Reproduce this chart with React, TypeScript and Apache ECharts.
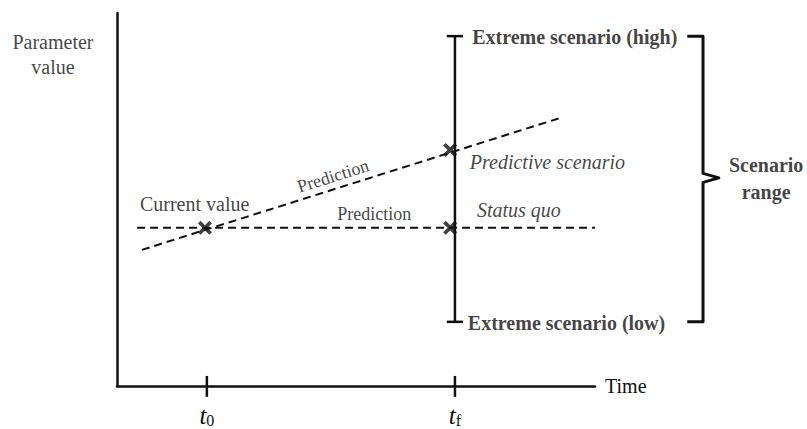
import { useEffect, useRef } from 'react';
import * as echarts from 'echarts';

// ---- data (axis units: time 0..10, parameter value 0..10) ----
const timeTickValues = [1.88, 7.07];
const timeTickSubscripts = ['0', 'f'];
const statusQuoLine = [[0.42, 4.24], [10.0, 4.24]];
const predictionLine = [[0.52, 3.65], [9.33, 7.21]];
const crossPoints = [[1.84, 4.24], [6.97, 6.33], [6.97, 4.24]];
const scenarioTime = 7.07;
const scenarioLow = 1.72;
const scenarioHigh = 9.38;
const braceXs = [11.93, 12.26, 12.59]; // start, spine, tip
const braceMid = 5.58;

const labelTexts = [
  'Current value',
  'Prediction',
  'Prediction',
  'Predictive scenario',
  'Status quo',
  'Extreme scenario (high)',
  'Extreme scenario (low)',
  'Scenario\nrange',
  'Parameter\nvalue',
];
const labelPoints = [
  [0.48, 4.88],
  [4.52, 5.63],
  [5.38, 4.61],
  [7.38, 6.01],
  [7.53, 4.72],
  [7.43, 9.36],
  [7.34, 1.69],
  [13.58, 5.56],
  [-1.34, 8.89],
];

// ---- styles ----
const INK = '#111011';
const FONT = "'Liberation Serif', 'Times New Roman', serif";
const CAP_HALF = 0.17;
const TICK_UP = 0.27;
const TICK_DOWN = 0.29;
const labelStyles: any[] = [
  { position: 'right', fontSize: 20 },
  { position: 'inside', fontSize: 18, rotate: 17.5 },
  { position: 'inside', fontSize: 18 },
  { position: 'right', fontSize: 20, fontStyle: 'italic' },
  { position: 'right', fontSize: 20, fontStyle: 'italic' },
  { position: 'right', fontSize: 20, fontWeight: 'bold' },
  { position: 'right', fontSize: 20, fontWeight: 'bold' },
  { position: 'inside', fontSize: 20, fontWeight: 'bold', lineHeight: 27, align: 'center' },
  { position: 'inside', fontSize: 20, lineHeight: 25, align: 'center' },
];

function seg(id: string, pts: number[][], width: number, type: any = 'solid') {
  return {
    type: 'line',
    id,
    data: pts,
    showSymbol: false,
    symbol: 'none',
    clip: false,
    silent: true,
    z: 3,
    lineStyle: { color: INK, width, type, cap: 'butt', join: 'miter' },
  };
}

export default function App() {
  const ref = useRef<HTMLDivElement>(null);
  useEffect(() => {
    if (!ref.current) return;
    const chart = echarts.init(ref.current, null, { renderer: 'svg' });

    const series: any[] = [
      seg('statusQuo', statusQuoLine, 2, [8, 5]),
      seg('prediction', predictionLine, 2, [8, 5]),
      seg('scenarioLine', [[scenarioTime, scenarioLow], [scenarioTime, scenarioHigh]], 2.5),
      seg('capHigh', [[scenarioTime - CAP_HALF, scenarioHigh], [scenarioTime + CAP_HALF, scenarioHigh]], 2.5),
      seg('capLow', [[scenarioTime - CAP_HALF, scenarioLow], [scenarioTime + CAP_HALF, scenarioLow]], 2.5),
      ...timeTickValues.map((t, i) => seg('tick' + i, [[t, TICK_UP], [t, -TICK_DOWN]], 2.5)),
      {
        type: 'scatter',
        id: 'crosses',
        data: crossPoints,
        symbol: 'path://M0,2.2L2.2,0L6,3.8L9.8,0L12,2.2L8.2,6L12,9.8L9.8,12L6,8.2L2.2,12L0,9.8L3.8,6Z',
        symbolSize: 14,
        clip: false,
        silent: true,
        z: 4,
        itemStyle: { color: INK },
      },
      {
        type: 'scatter',
        id: 'labels',
        symbolSize: 0,
        clip: false,
        silent: true,
        z: 5,
        data: labelPoints.map((p, i) => {
          const s = labelStyles[i];
          return {
            value: p,
            label: {
              show: true,
              formatter: labelTexts[i],
              distance: 0,
              color: INK,
              fontFamily: FONT,
              ...s,
            },
          };
        }),
      },
    ];

    chart.setOption({
      animation: false,
      backgroundColor: '#ffffff',
      grid: { left: 117, top: 13, width: 478, height: 373, containLabel: false, outerBoundsMode: 'none' },
      xAxis: {
        type: 'value',
        min: 0,
        max: 10,
        name: 'Time',
        nameLocation: 'end',
        nameGap: 10,
        nameTextStyle: { color: INK, fontFamily: FONT, fontSize: 20 },
        splitLine: { show: false },
        axisTick: { show: false },
        axisLine: { show: true, onZero: false, lineStyle: { color: INK, width: 2.5 } },
        axisLabel: {
          show: true,
          customValues: timeTickValues,
          margin: 17,
          formatter: (v: number) => {
            let best = 0;
            timeTickValues.forEach((t, i) => {
              if (Math.abs(t - v) < Math.abs(timeTickValues[best] - v)) best = i;
            });
            return '{t|t}{s|' + timeTickSubscripts[best] + '}';
          },
          rich: {
            t: { fontFamily: FONT, fontStyle: 'italic', fontSize: 25, color: INK, verticalAlign: 'bottom' },
            s: { fontFamily: FONT, fontSize: 16, color: INK, padding: [8, 0, 0, 0], verticalAlign: 'bottom' },
          },
        },
      },
      yAxis: {
        type: 'value',
        min: 0,
        max: 10,
        splitLine: { show: false },
        axisTick: { show: false },
        axisLabel: { show: false },
        axisLine: { show: true, lineStyle: { color: INK, width: 2.5 } },
      },
      series,
    });

    // brace: data points converted to pixels through the chart's own axes
    const braceData = [
      [braceXs[0], scenarioHigh],
      [braceXs[1], scenarioHigh],
      [braceXs[1], braceMid + 0.12],
      [braceXs[2], braceMid],
      [braceXs[1], braceMid - 0.12],
      [braceXs[1], scenarioLow],
      [braceXs[0], scenarioLow],
    ];
    const bracePx = braceData.map((p) => chart.convertToPixel({ gridIndex: 0 }, p) as number[]);
    chart.setOption({
      graphic: [
        {
          type: 'polyline',
          id: 'brace',
          silent: true,
          z: 3,
          shape: { points: bracePx },
          style: { stroke: INK, lineWidth: 3, fill: 'none', lineJoin: 'round' },
        },
      ],
    });
    return () => chart.dispose();
  }, []);
  return <div ref={ref} style={{ position: 'absolute', left: 0, top: 0, width: 807, height: 429 }} />;
}
